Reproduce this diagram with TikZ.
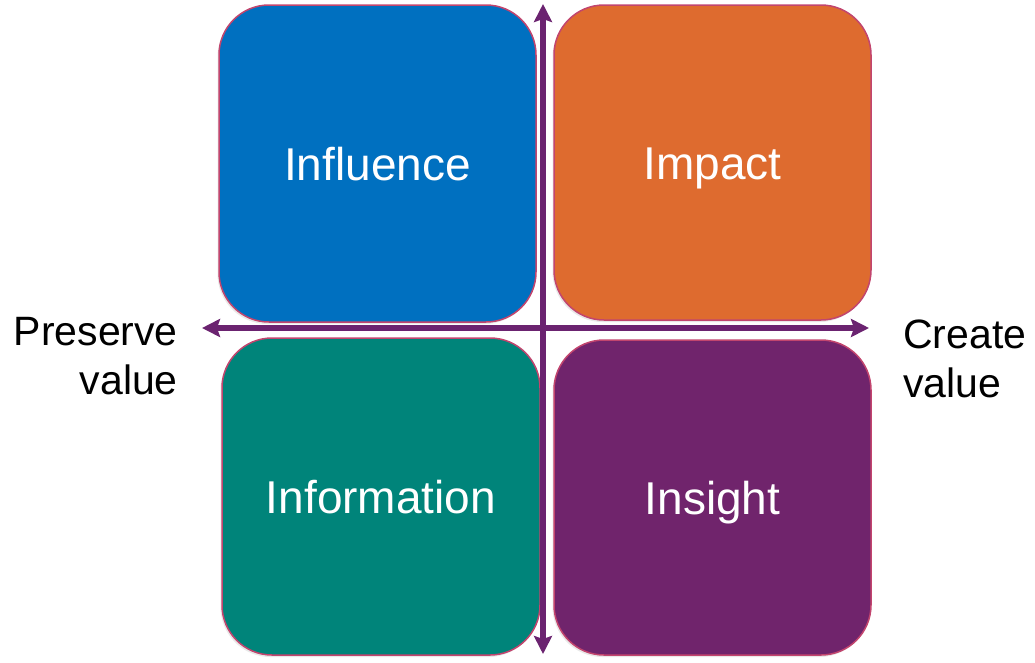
\documentclass[tikz,border=0pt]{standalone}
\usepackage{fontspec}
\setmainfont{Liberation Sans}
\usetikzlibrary{arrows.meta,shadows}
\definecolor{qblue}{HTML}{0070C0}
\definecolor{qorange}{HTML}{DE6B2F}
\definecolor{qteal}{HTML}{00847A}
\definecolor{qpurple}{HTML}{70246C}
\definecolor{qborder}{HTML}{C2456E}
\definecolor{qaxis}{HTML}{6B2370}
\tikzset{
  quad/.style={rectangle, rounded corners=50pt, draw=qborder, line width=1.5pt,
    text=white, font=\fontsize{46}{55}\selectfont, inner sep=0pt,
    text height=43pt, text depth=10pt,
    drop shadow={shadow xshift=-1.5pt, shadow yshift=-2pt, opacity=0.18}},
  axis/.style={draw=qaxis, line width=5.5pt,
    -{Stealth[length=18pt,width=18pt,inset=3pt]}},
  side/.style={font=\fontsize{41}{49}\selectfont, text=black, inner sep=0pt}
}
\begin{document}
\begin{tikzpicture}[x=1pt,y=-1pt]
\useasboundingbox (0,0) rectangle (1035,662);
\node[quad, fill=qblue, minimum width=317pt, minimum height=317pt] (influence) at (377.5,163.5) {Influence};
\node[quad, fill=qorange, minimum width=317pt, minimum height=315pt] (impact) at (712.5,162.5) {Impact};
\node[quad, fill=qteal, minimum width=318pt, minimum height=317pt] (information) at (381,496.5) {Information};
\node[quad, fill=qpurple, minimum width=317pt, minimum height=315pt] (insight) at (712.5,497.5) {Insight};
\coordinate (vc) at (543,328);
\coordinate (top) at (543,4);
\coordinate (bottom) at (543,654);
\coordinate (left) at (202,328);
\coordinate (right) at (869,328);
\draw[axis] (vc) -- (top);
\draw[axis] (vc) -- (bottom);
\draw[axis] (vc) -- (left);
\draw[axis] (vc) -- (right);
\node[side, align=right, anchor=base east] (preserve) at (178,394) {Preserve\\value};
\node[side, align=left, anchor=base west] (create) at (903,397) {Create\\value};
\end{tikzpicture}
\end{document}
